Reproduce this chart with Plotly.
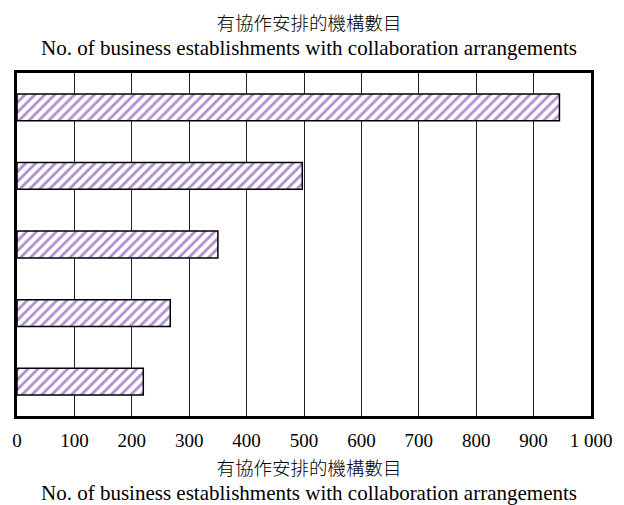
import plotly.graph_objects as go

# Number of business establishments with collaboration arrangements
categories = ["1", "2", "3", "4", "5"]
values = [945, 497, 350, 267, 220]

tick_vals = [0, 100, 200, 300, 400, 500, 600, 700, 800, 900, 1000]
tick_text = ["0", "100", "200", "300", "400", "500", "600", "700", "800", "900", "1 000"]

title_zh = "有協作安排的機構數目"
title_en = "No. of business establishments with collaboration arrangements"

SERIF = "Liberation Serif"
CJK = "Noto Sans CJK TC"

fig = go.Figure(
    go.Bar(
        x=values,
        y=categories,
        orientation="h",
        marker=dict(
            color="white",
            line=dict(color="black", width=1.5),
            pattern=dict(shape="/", fgcolor="#5E1E9E", bgcolor="white",
                         size=7, solidity=0.4),
        ),
        width=0.39,
    )
)

fig.update_layout(
    width=624,
    height=505,
    margin=dict(l=12, r=30, t=73, b=89),
    paper_bgcolor="white",
    plot_bgcolor="white",
    showlegend=False,
    font=dict(family=SERIF, size=19, color="black"),
)

fig.update_xaxes(
    range=[0, 1000],
    tickvals=tick_vals,
    ticktext=tick_text,
    showgrid=True,
    gridcolor="#222222",
    gridwidth=1,
    zeroline=False,
    showline=True,
    linecolor="black",
    linewidth=2.5,
    mirror=True,
    ticks="",
    ticklabelstandoff=5,
    tickfont=dict(family=SERIF, size=19),
)

fig.update_yaxes(
    categoryorder="array",
    categoryarray=categories,
    autorange="reversed",
    showticklabels=False,
    showgrid=False,
    zeroline=False,
    showline=True,
    linecolor="black",
    linewidth=2.5,
    mirror=True,
    ticks="",
)

# Two-line bilingual caption: Chinese line in a CJK font, English line in serif.
caption = (
    f"<span style='font-family:{CJK};font-size:18.5px;font-weight:300'>{title_zh}</span>"
    f"<br><span style='font-size:21px'>{title_en}</span>"
)

plot_top, plot_h = 73, 505 - 73 - 89
for cx, cy in [(308, 34.5), (308, 479.5)]:
    fig.add_annotation(
        text=caption,
        xref="paper",
        x=(cx - 12) / (624 - 12 - 30),
        yref="paper",
        y=1 - (cy - plot_top) / plot_h,
        xanchor="center",
        yanchor="middle",
        align="center",
        showarrow=False,
        font=dict(family=SERIF, size=19),
    )

fig.write_html("out.html")
